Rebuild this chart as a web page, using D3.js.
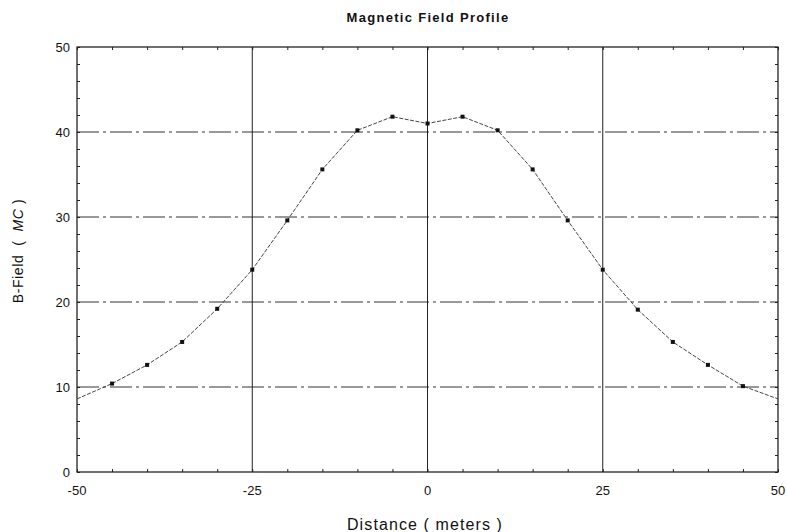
<!DOCTYPE html>
<html><head><meta charset="utf-8">
<script src="https://cdn.jsdelivr.net/npm/d3@7"></script>
<style>
body{margin:0;background:#fff;}
svg{display:block;font-family:"Liberation Sans",Arial,sans-serif;}
</style></head>
<body>
<svg id="chart" width="787" height="532"></svg>
<script>
const distance = [-50,-45,-40,-35,-30,-25,-20,-15,-10,-5,0,5,10,15,20,25,30,35,40,45,50];
const bField   = [8.6,10.4,12.6,15.3,19.2,23.8,29.6,35.6,40.2,41.8,41.0,41.8,40.2,35.6,29.6,23.8,19.1,15.3,12.6,10.1,8.6];
const xTicks = [-50,-25,0,25,50];
const yTicks = [0,10,20,30,40,50];
const title = "Magnetic Field Profile";
const xLabel = "Distance ( meters )";

const svg = d3.select("#chart");
const m = {l:77, r:778, t:47, b:472};
const x = d3.scaleLinear().domain([-50,50]).range([m.l, m.r]);
const y = d3.scaleLinear().domain([0,50]).range([m.b, m.t]);

// grid horizontal
svg.append("g").selectAll("line").data(yTicks.filter(v=>v>0&&v<50)).join("line")
  .attr("x1",m.l).attr("x2",m.r).attr("y1",d=>y(d)).attr("y2",d=>y(d))
  .attr("stroke","#333").attr("stroke-width",1).attr("stroke-dasharray","22,4,3,4");
// grid vertical
svg.append("g").selectAll("line").data(xTicks.filter(v=>v>-50&&v<50)).join("line")
  .attr("x1",d=>x(d)).attr("x2",d=>x(d)).attr("y1",m.t).attr("y2",m.b)
  .attr("stroke","#222").attr("stroke-width",1);

// frame
svg.append("rect").attr("x",m.l).attr("y",m.t).attr("width",m.r-m.l).attr("height",m.b-m.t)
  .attr("fill","none").attr("stroke","#111").attr("stroke-width",1.2);

// axes with minor ticks inside
const yAxisL = d3.axisLeft(y).tickValues(d3.range(0,51,2)).tickSize(-3).tickFormat("");
const yAxisR = d3.axisRight(y).tickValues(d3.range(0,51,2)).tickSize(-3).tickFormat("");
const xAxisB = d3.axisBottom(x).tickValues(d3.range(-50,51,5)).tickSize(-3).tickFormat("");
const xAxisT = d3.axisTop(x).tickValues(d3.range(-50,51,5)).tickSize(-3).tickFormat("");
[[yAxisL,`translate(${m.l},0)`],[yAxisR,`translate(${m.r},0)`],[xAxisB,`translate(0,${m.b})`],[xAxisT,`translate(0,${m.t})`]]
 .forEach(([ax,tr])=>{
   const g=svg.append("g").attr("transform",tr).call(ax);
   g.select(".domain").remove();
   g.selectAll("line").attr("stroke","#222");
 });

// tick labels
svg.append("g").selectAll("text").data(yTicks).join("text")
  .attr("x",m.l-7).attr("y",d=>y(d)+5).attr("text-anchor","end")
  .attr("font-size",13).attr("fill","#111").text(d=>d);
svg.append("g").selectAll("text").data(xTicks).join("text")
  .attr("x",d=>x(d)).attr("y",m.b+23).attr("text-anchor","middle")
  .attr("font-size",13).attr("fill","#111").text(d=>d);

// line
const line = d3.line().x((d,i)=>x(distance[i])).y(d=>y(d));
svg.append("path").datum(bField).attr("d",line).attr("fill","none")
  .attr("stroke","#444").attr("stroke-width",1).attr("stroke-dasharray","4,1.5");
const inner = bField.map((v,i)=>({v,i})).filter(d=>d.i>0&&d.i<bField.length-1);
svg.append("g").selectAll("rect").data(inner).join("rect")
  .attr("x",d=>x(distance[d.i])-2).attr("y",d=>y(d.v)-2).attr("width",4).attr("height",4)
  .attr("fill","#111");

// title and labels
svg.append("text").attr("x",428).attr("y",22).attr("text-anchor","middle")
  .attr("font-size",13).attr("font-weight","bold").attr("letter-spacing",1.3)
  .attr("fill","#111").text(title);
svg.append("text").attr("x",425).attr("y",530).attr("text-anchor","middle")
  .attr("font-size",16).attr("letter-spacing",1.1).attr("fill","#111").text(xLabel);
const yl = svg.append("text").attr("transform","translate(23,251) rotate(-90)")
  .attr("text-anchor","middle").attr("font-size",14).attr("letter-spacing",0.6).attr("fill","#111")
  .attr("xml:space","preserve");
yl.append("tspan").text("B-Field  (  ");
yl.append("tspan").attr("font-style","italic").text("MC");
yl.append("tspan").text(" )");
</script>
</body></html>
